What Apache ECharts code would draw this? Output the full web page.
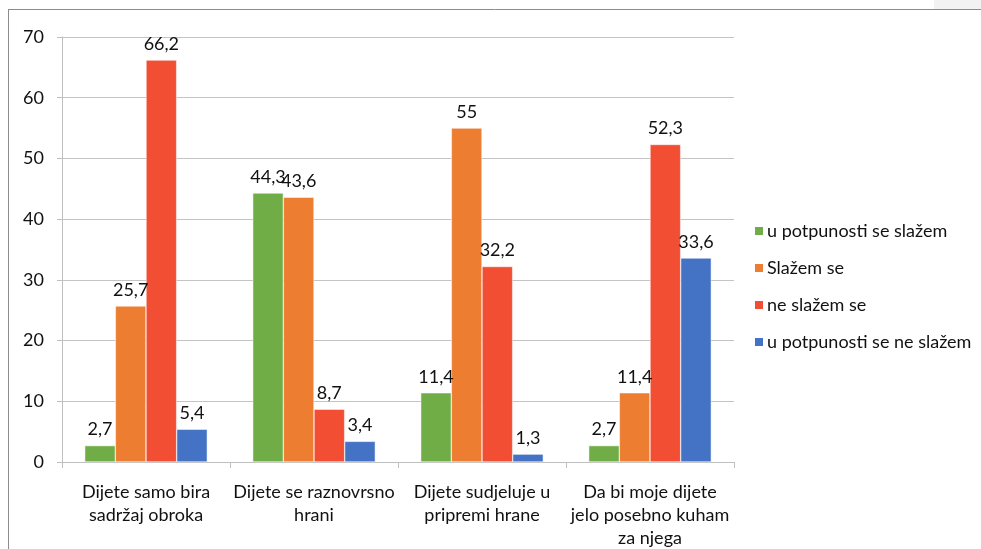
<!DOCTYPE html>
<html>
<head>
<meta charset="utf-8">
<script src="https://cdn.jsdelivr.net/npm/echarts@6/dist/echarts.min.js"></script>
<style>
  html, body { margin: 0; padding: 0; background: #fff; }
  #chart { width: 981px; height: 549px; }
</style>
</head>
<body>
<div id="chart"></div>
<script>
  const categories = [
    'Dijete samo bira\nsadržaj obroka',
    'Dijete se raznovrsno\nhrani',
    'Dijete sudjeluje u\npripremi hrane',
    'Da bi moje dijete\njelo posebno kuham\nza njega'
  ]
  const seriesNames = ['u potpunosti se slažem', 'Slažem se', 'ne slažem se', 'u potpunosti se ne slažem']
  const potpunoSlazem = [2.7, 44.3, 11.4, 2.7]
  const slazem = [25.7, 43.6, 55, 11.4]
  const neSlazem = [66.2, 8.7, 32.2, 52.3]
  const potpunoNeSlazem = [5.4, 3.4, 1.3, 33.6]
  const colors = ['#70AD47', '#ED7D31', '#F24E33', '#4472C4']

  const font = 'Lato, "Open Sans", sans-serif'
  const values = [potpunoSlazem, slazem, neSlazem, potpunoNeSlazem]

  const chart = echarts.init(document.getElementById('chart'))
  chart.setOption({
    animation: false,
    textStyle: {fontFamily: font},
    graphic: [
      {type: 'rect', shape: {x: 934, y: 0, width: 47, height: 9}, style: {fill: '#f2f2f2'}},
      {type: 'line', shape: {x1: 8, y1: 9.5, x2: 981, y2: 9.5}, style: {stroke: '#8c8c8c', lineWidth: 1}},
      {type: 'line', shape: {x1: 8.5, y1: 9, x2: 8.5, y2: 549}, style: {stroke: '#8c8c8c', lineWidth: 1}}
    ],
    grid: {left: 62, top: 37, width: 672, height: 425, outerBoundsMode: 'none', containLabel: false},
    legend: {
      orient: 'vertical',
      left: 748,
      top: 217,
      itemWidth: 10,
      itemHeight: 10,
      itemGap: 19,
      icon: 'rect',
      textStyle: {fontSize: 18, color: '#111', fontFamily: font, padding: [0, 0, 0, -2]},
      data: seriesNames
    },
    xAxis: {
      type: 'category',
      data: categories,
      axisLine: {lineStyle: {color: '#bfbfbf'}},
      axisTick: {show: true, length: 6, lineStyle: {color: '#bfbfbf'}},
      axisLabel: {fontSize: 18, color: '#111', lineHeight: 23, margin: 19, interval: 0}
    },
    yAxis: {
      type: 'value',
      min: 0,
      max: 70,
      interval: 10,
      axisLine: {show: true, lineStyle: {color: '#bfbfbf'}},
      axisTick: {show: true, length: 5, lineStyle: {color: '#bfbfbf'}},
      splitLine: {lineStyle: {color: '#c4c4c4'}},
      axisLabel: {fontSize: 18, color: '#111', margin: 18}
    },
    series: values.map((v, i) => ({
      name: seriesNames[i],
      type: 'bar',
      data: v,
      barGap: '0%',
      barCategoryGap: '27%',
      itemStyle: {color: colors[i], borderColor: '#fff', borderWidth: 0.5},
      label: {
        show: true,
        position: 'top',
        distance: 7,
        fontSize: 18,
        color: '#111',
        formatter: p => String(p.value).replace('.', ',')
      }
    }))
  })
</script>
</body>
</html>
